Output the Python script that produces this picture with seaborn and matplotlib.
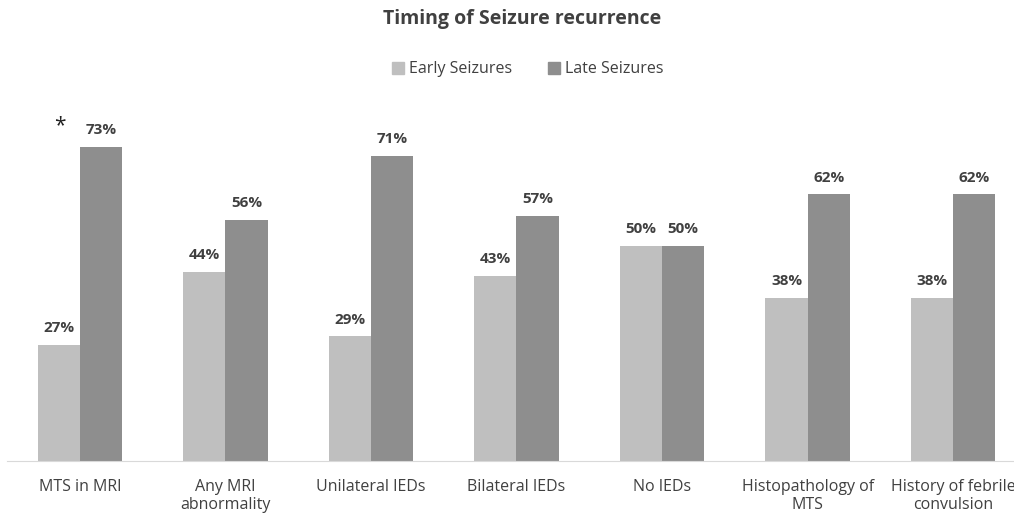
import matplotlib
matplotlib.use("Agg")
import matplotlib.pyplot as plt
import seaborn as sns
import pandas as pd

categories = ["MTS in MRI", "Any MRI\nabnormality", "Unilateral IEDs", "Bilateral IEDs",
              "No IEDs", "Histopathology of\nMTS", "History of febrile\nconvulsion"]
early = [27, 44, 29, 43, 50, 38, 38]
late = [73, 56, 71, 57, 50, 62, 62]
series = ["Early Seizures", "Late Seizures"]
colors = ["#BFBFBF", "#8E8E8E"]

df = pd.DataFrame({
    "category": categories * 2,
    "value": early + late,
    "series": [series[0]] * len(categories) + [series[1]] * len(categories),
})

sns.set_style("white")
plt.rcParams["font.family"] = ["Open Sans", "DejaVu Sans"]
text_col = "#404040"

fig = plt.figure(figsize=(10.14, 5.16), dpi=100)
ax = fig.add_axes([7 / 1014, 55 / 516, 1019 / 1014, 344 / 516])

sns.barplot(data=df, x="category", y="value", hue="series", palette=colors,
            width=0.58, gap=0, saturation=1, linewidth=0, ax=ax, legend=False)

ax.set_ylim(0, 80)
ax.set_xlim(-0.5, len(categories) - 0.5)
for c in ax.containers:
    ax.bar_label(c, labels=[f"{v:.0f}%" for v in c.datavalues], padding=7,
                 fontsize=11, fontweight="bold", color=text_col)

ax.set_xlabel("")
ax.set_ylabel("")
ax.set_yticks([])
ax.tick_params(axis="x", length=0, pad=13, labelsize=11.5, labelcolor=text_col)
for s in ["top", "right", "left"]:
    ax.spines[s].set_visible(False)
ax.spines["bottom"].set_color("#D9D9D9")

# significance marker
ax.text(-0.14, 78, "*", ha="center", va="center", fontsize=15, color="#202020")

fig.text(0.515, 0.963, "Timing of Seizure recurrence", ha="center", va="center",
         fontsize=14, fontweight="bold", color=text_col)

handles = [plt.Line2D([], [], marker="s", linestyle="", markersize=8, color=c) for c in colors]
fig.legend(handles, series, loc="center", bbox_to_anchor=(0.52, 0.866), ncol=2,
           frameon=False, fontsize=11.5, handletextpad=0.3, columnspacing=2.2,
           handlelength=0.8, labelcolor=text_col)

fig.savefig("out.png", dpi=100)
